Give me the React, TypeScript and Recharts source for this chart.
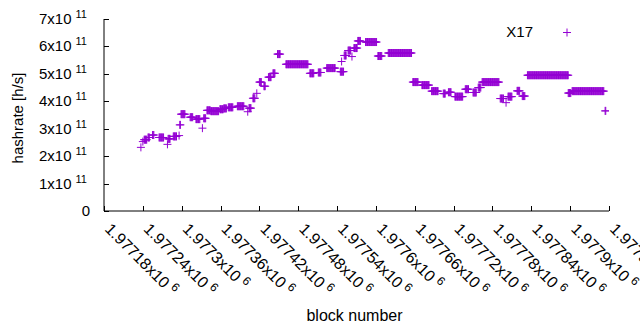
import React from 'react';
import { ScatterChart, Scatter, XAxis, YAxis, Legend } from 'recharts';

const FONT = '"Liberation Sans", Arial, Helvetica, sans-serif';
const PURPLE = '#9400d3';
const INK = '#000000';
const SERIES_NAME = 'X17';

const CHART_W = 640;
const CHART_H = 330;
const PLOT_LEFT = 104;
const PLOT_TOP = 19;
const PLOT_RIGHT = 609;
const PLOT_BOTTOM = 211;

const xTicks = [1977180, 1977240, 1977300, 1977360, 1977420, 1977480, 1977540, 1977600, 1977660, 1977720, 1977780, 1977840, 1977900, 1977960];
const xTickMantissas = ['1.97718', '1.97724', '1.9773', '1.97736', '1.97742', '1.97748', '1.97754', '1.9776', '1.97766', '1.97772', '1.97778', '1.97784', '1.9779', '1.97796'];
const xTickExponent = '6';

const yTicks = [0, 1e11, 2e11, 3e11, 4e11, 5e11, 6e11, 7e11];
const yTickMantissas = ['0', '1', '2', '3', '4', '5', '6', '7'];
const yTickExponent = '11';

const xDomain = [1977180, 1977960];
const yDomain = [0, 7e11];

// runs of consecutive blocks that share the same estimated hashrate (h/s)
const runStart = [1977237, 1977240, 1977242, 1977248, 1977255, 1977265, 1977278, 1977279, 1977287, 1977296, 1977297, 1977299, 1977313, 1977322, 1977332, 1977334, 1977339, 1977345, 1977359, 1977365, 1977372, 1977386, 1977402, 1977404, 1977410, 1977416, 1977420, 1977427, 1977434, 1977441, 1977448, 1977461, 1977498, 1977511, 1977524, 1977545, 1977547, 1977551, 1977557, 1977563, 1977566, 1977572, 1977584, 1977603, 1977619, 1977657, 1977671, 1977686, 1977704, 1977712, 1977722, 1977738, 1977750, 1977758, 1977764, 1977792, 1977801, 1977804, 1977818, 1977826, 1977834, 1977897, 1977903, 1977954];
const runEnd = [1977237, 1977240, 1977246, 1977250, 1977257, 1977272, 1977278, 1977282, 1977292, 1977296, 1977298, 1977305, 1977317, 1977328, 1977332, 1977337, 1977344, 1977357, 1977364, 1977369, 1977379, 1977396, 1977402, 1977407, 1977413, 1977416, 1977423, 1977429, 1977438, 1977444, 1977452, 1977495, 1977504, 1977515, 1977537, 1977550, 1977547, 1977554, 1977561, 1977563, 1977571, 1977576, 1977601, 1977609, 1977655, 1977665, 1977682, 1977696, 1977707, 1977716, 1977734, 1977743, 1977755, 1977762, 1977790, 1977797, 1977801, 1977810, 1977822, 1977830, 1977897, 1977901, 1977952, 1977955];
const runValue = [2.32e11, 2.53e11, 2.6e11, 2.68e11, 2.77e11, 2.68e11, 2.43e11, 2.63e11, 2.72e11, 2.75e11, 3.14e11, 3.53e11, 3.42e11, 3.35e11, 3.02e11, 3.38e11, 3.67e11, 3.64e11, 3.71e11, 3.74e11, 3.78e11, 3.82e11, 3.62e11, 3.75e11, 4.11e11, 4.29e11, 4.7e11, 4.55e11, 4.88e11, 5.02e11, 5.72e11, 5.35e11, 5.02e11, 5.05e11, 5.21e11, 5.08e11, 5.45e11, 5.67e11, 5.85e11, 5.63e11, 5.94e11, 6.2e11, 6.16e11, 5.65e11, 5.76e11, 4.7e11, 4.59e11, 4.37e11, 4.28e11, 4.33e11, 4.17e11, 4.44e11, 4.32e11, 4.5e11, 4.7e11, 4.1e11, 3.95e11, 4.17e11, 4.38e11, 4.19e11, 4.95e11, 4.3e11, 4.37e11, 3.65e11];

const points: { block: number; hashrate: number }[] = [];
runStart.forEach((s, i) => {
  for (let b = s; b <= runEnd[i]; b++) points.push({ block: b, hashrate: runValue[i] });
});

const PlusShape = (props: any) => {
  const { cx, cy } = props;
  if (cx == null || cy == null) return null;
  return <path d={`M${cx - 4},${cy}h8M${cx},${cy - 4}v8`} stroke={PURPLE} strokeWidth={1} fill="none" />;
};

const XTickBottom = (props: any) => {
  const { x, y, payload } = props;
  const i = xTicks.indexOf(payload.value);
  return (
    <g>
      <path d={`M${Math.round(x) + 0.5},${y}v-5`} stroke={INK} strokeWidth={1} fill="none" />
      <text transform={`translate(${x},${y + 19}) rotate(45)`} fontSize={16} fontFamily={FONT} fill={INK}>
        {xTickMantissas[i]}x10
        <tspan dx={4} dy={-6} fontSize={12}>{xTickExponent}</tspan>
      </text>
    </g>
  );
};

const XTickTop = (props: any) => {
  const { x, y } = props;
  return <path d={`M${Math.round(x) + 0.5},${y}v5`} stroke={INK} strokeWidth={1} fill="none" />;
};

const YTickLeft = (props: any) => {
  const { x, y, payload } = props;
  const i = yTicks.indexOf(payload.value);
  return (
    <g>
      <path d={`M${x},${Math.round(y) + 0.5}h5`} stroke={INK} strokeWidth={1} fill="none" />
      {i === 0 ? (
        <text x={x - 14} y={y + 5} textAnchor="end" fontSize={15} fontFamily={FONT} fill={INK}>
          {yTickMantissas[i]}
        </text>
      ) : (
        <text x={x - 65} y={y + 5} fontSize={15} fontFamily={FONT} fill={INK}>
          {yTickMantissas[i]}x10
          <tspan dx={4} dy={-6} fontSize={11}>{yTickExponent}</tspan>
        </text>
      )}
    </g>
  );
};

const YTickRight = (props: any) => {
  const { x, y } = props;
  return <path d={`M${x},${Math.round(y) + 0.5}h-5`} stroke={INK} strokeWidth={1} fill="none" />;
};

const renderLegend = (props: any) => {
  const name = props?.payload?.[0]?.value ?? SERIES_NAME;
  return (
    <svg width={CHART_W} height={50} style={{ display: 'block', pointerEvents: 'none' }}>
      <text x={533} y={37} textAnchor="end" fontSize={15} fontFamily={FONT} fill={INK}>{name}</text>
      <path d="M563,32.5h8M567,28.5v8" stroke={PURPLE} strokeWidth={1} />
    </svg>
  );
};

const YLabel = (props: any) => {
  const vb = props.viewBox || { x: 0, y: PLOT_TOP, width: PLOT_LEFT, height: PLOT_BOTTOM - PLOT_TOP };
  const cy = vb.y + vb.height / 2 + 3;
  return (
    <text transform={`translate(23,${cy}) rotate(-90)`} textAnchor="middle" fontSize={15} fontFamily={FONT} fill={INK}>
      hashrate [h/s]
    </text>
  );
};

const XLabel = (props: any) => {
  const vb = props.viewBox || { x: PLOT_LEFT, y: PLOT_BOTTOM, width: PLOT_RIGHT - PLOT_LEFT, height: CHART_H - PLOT_BOTTOM };
  const cx = vb.x + vb.width / 2 - 2;
  return (
    <text x={cx} y={321} textAnchor="middle" fontSize={16} fontFamily={FONT} fill={INK}>
      block number
    </text>
  );
};

const axisLineStyle = { stroke: INK, strokeWidth: 1 };

export default function App() {
  return (
    <div style={{ width: CHART_W, height: CHART_H, background: '#fff' }}>
      <style>{'body{margin:0;background:#fff}'}</style>
      <ScatterChart
        width={CHART_W}
        height={CHART_H}
        margin={{ top: PLOT_TOP, right: CHART_W - PLOT_RIGHT, bottom: 0, left: 0 }}
      >
        <XAxis
          dataKey="block"
          type="number"
          domain={xDomain}
          ticks={xTicks}
          interval={0}
          height={CHART_H - PLOT_BOTTOM}
          tickSize={0}
          tickMargin={0}
          tickLine={false}
          tick={<XTickBottom />}
          axisLine={axisLineStyle}
          label={<XLabel />}
          allowDataOverflow
        />
        <XAxis
          xAxisId="top"
          orientation="top"
          type="number"
          domain={xDomain}
          ticks={xTicks}
          interval={0}
          height={0}
          tickSize={0}
          tickMargin={0}
          tickLine={false}
          tick={<XTickTop />}
          axisLine={axisLineStyle}
          allowDataOverflow
        />
        <YAxis
          dataKey="hashrate"
          type="number"
          domain={yDomain}
          ticks={yTicks}
          interval={0}
          width={PLOT_LEFT}
          tickSize={0}
          tickMargin={0}
          tickLine={false}
          tick={<YTickLeft />}
          axisLine={axisLineStyle}
          label={<YLabel />}
          allowDataOverflow
        />
        <YAxis
          yAxisId="right"
          orientation="right"
          type="number"
          domain={yDomain}
          ticks={yTicks}
          interval={0}
          width={0}
          tickSize={0}
          tickMargin={0}
          tickLine={false}
          tick={<YTickRight />}
          axisLine={axisLineStyle}
          allowDataOverflow
        />
        <Legend
          layout="horizontal"
          align="center"
          verticalAlign="middle"
          wrapperStyle={{ left: 0, top: 0, width: CHART_W, height: 50, pointerEvents: 'none' }}
          content={renderLegend}
        />
        <Scatter
          name={SERIES_NAME}
          data={points}
          fill={PURPLE}
          shape={PlusShape}
          isAnimationActive={false}
        />
      </ScatterChart>
    </div>
  );
}
